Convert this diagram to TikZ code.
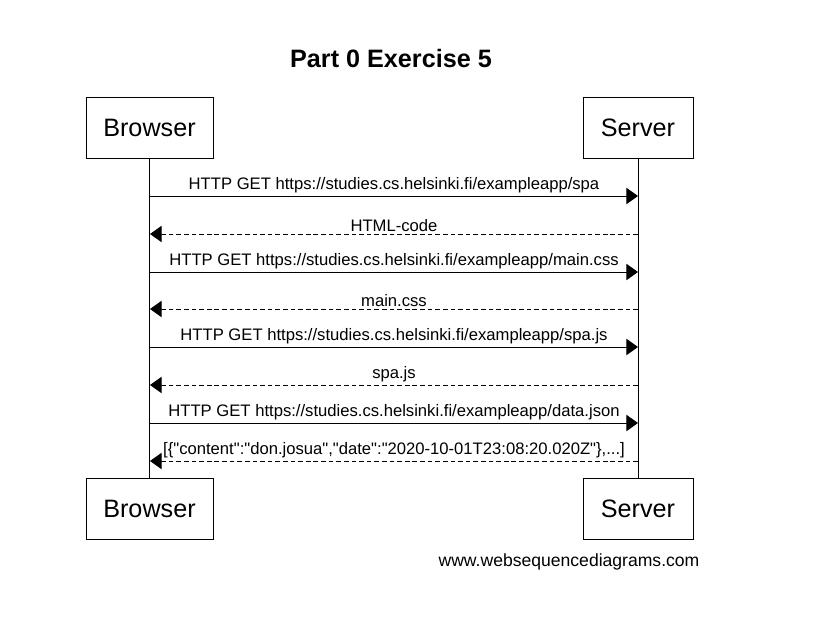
\documentclass[tikz,border=0pt]{standalone}
\usepackage{fontspec}
\setmainfont{Liberation Sans}
\usepackage{tikz}
\usetikzlibrary{positioning,arrows.meta,calc}

\begin{document}
\begin{tikzpicture}[x=0.03cm,y=-0.03cm,line width=0.8pt,
    actor/.style={draw,minimum width=3.81cm,minimum height=1.83cm,font=\fontsize{21.5}{24}\selectfont},
    srv/.style={actor,minimum width=3.3cm},
    req/.style={-{Triangle[length=10pt,width=14pt]}},
    resp/.style={req,dash pattern=on 4pt off 2.5pt},
    lbl/.style={midway,above=0pt,inner sep=2pt,font=\fontsize{14.2}{16}\selectfont}]
    % ramka
    \useasboundingbox (0,0) rectangle (813,619);

    % naslov
    \node (title) at (391,58) {\fontsize{21.5}{24}\selectfont\bfseries Part 0 Exercise 5};

    % akterji
    \node [actor] (bt) at (149.5,127.5) {Browser};
    \node [srv] (st) at (638,127.5) {Server};
    \node [actor] (bb) at (149.5,508.5) {Browser};
    \node [srv] (sb) at (638,508.5) {Server};

    % zivljenjske crte
    \draw (bt) -- (bb);
    \draw (st) -- (sb);

    % tocke sporocil
    \coordinate (b1) at (150,196); \coordinate (s1) at (638,196);
    \coordinate (b2) at (150,234); \coordinate (s2) at (638,234);
    \coordinate (b3) at (150,272); \coordinate (s3) at (638,272);
    \coordinate (b4) at (150,309); \coordinate (s4) at (638,309);
    \coordinate (b5) at (150,347); \coordinate (s5) at (638,347);
    \coordinate (b6) at (150,385); \coordinate (s6) at (638,385);
    \coordinate (b7) at (150,423); \coordinate (s7) at (638,423);
    \coordinate (b8) at (150,461); \coordinate (s8) at (638,461);

    % sporocila
    \draw [req] (b1) -- node[lbl] {HTTP GET https://studies.cs.helsinki.fi/exampleapp/spa} (s1);
    \draw [resp] (s2) -- node[lbl] {HTML-code} (b2);
    \draw [req] (b3) -- node[lbl] {HTTP GET https://studies.cs.helsinki.fi/exampleapp/main.css} (s3);
    \draw [resp] (s4) -- node[lbl] {main.css} (b4);
    \draw [req] (b5) -- node[lbl] {HTTP GET https://studies.cs.helsinki.fi/exampleapp/spa.js} (s5);
    \draw [resp] (s6) -- node[lbl] {spa.js} (b6);
    \draw [req] (b7) -- node[lbl] {HTTP GET https://studies.cs.helsinki.fi/exampleapp/data.json} (s7);
    \draw [resp] (s8) -- node[lbl] {[\{\textquotedbl content\textquotedbl:\textquotedbl don.josua\textquotedbl,\textquotedbl date\textquotedbl:\textquotedbl 2020-10-01T23:08:20.020Z\textquotedbl\},...]} (b8);

    % noga
    \node (web) at (569,562) {\fontsize{15}{17}\selectfont www.websequencediagrams.com};
\end{tikzpicture}
\end{document}
